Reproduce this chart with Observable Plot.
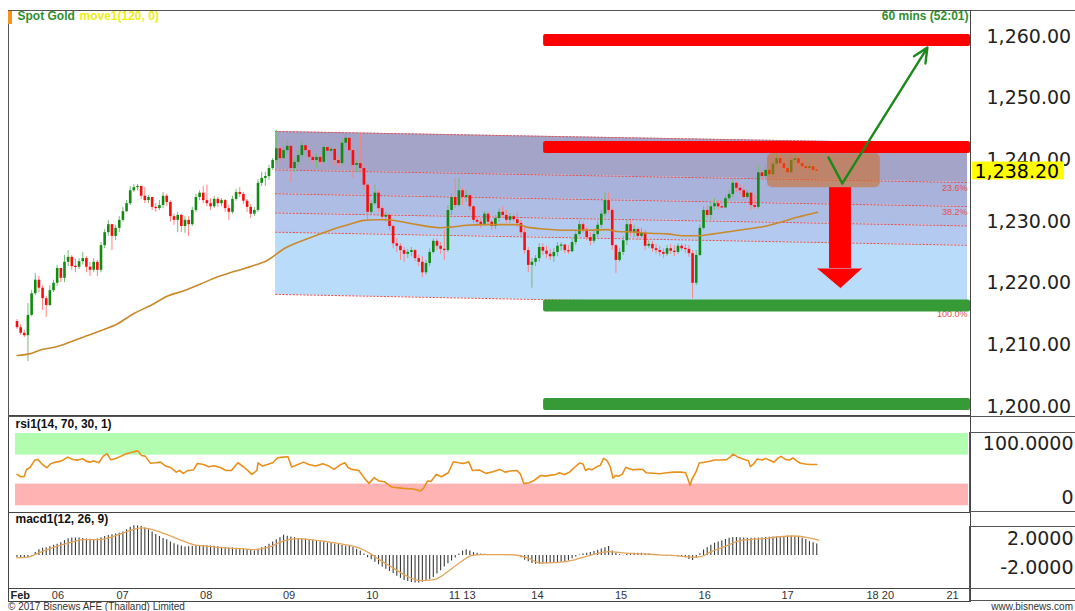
<!DOCTYPE html>
<html><head><meta charset="utf-8">
<script src="https://cdn.jsdelivr.net/npm/d3@7"></script>
<script src="https://cdn.jsdelivr.net/npm/@observablehq/plot@0.6"></script>
<style>
html,body{margin:0;padding:0;background:#fff;}
#root{position:relative;width:1075px;height:611px;overflow:hidden;font-family:"Liberation Sans",Arial,sans-serif;}
#root svg{position:absolute;left:0;display:block;}
.box{position:absolute;border:1px solid #555;box-sizing:border-box;pointer-events:none;}
.foot{position:absolute;top:602px;font-size:10px;line-height:9px;color:#333;white-space:nowrap;}
</style></head><body><div id="root"></div>
<script>
// ---------- DATA ----------
const firstOpen = 1213.8;
const closes = [
1212.8,1211.9,1211.5,1214.8,1218.3,1220.5,1219.2,1217.5,1216.4,1218.8,
1220.0,1222.4,1220.8,1223.4,1224.2,1222.7,1222.6,1223.5,1224.0,1222.6,
1222.1,1223.4,1222.1,1226.1,1228.2,1229.5,1227.6,1228.9,1230.2,1231.6,
1232.9,1235.0,1235.5,1235.7,1234.1,1233.4,1233.9,1232.3,1232.1,1232.6,
1234.1,1233.1,1230.8,1230.2,1231.0,1229.2,1230.2,1229.5,1231.8,1233.9,
1234.6,1233.4,1232.9,1232.4,1233.6,1232.9,1233.4,1232.1,1231.5,1233.6,
1234.7,1234.4,1233.3,1232.3,1231.2,1231.8,1236.2,1237.0,1237.3,1238.6,
1239.9,1241.8,1240.2,1241.5,1242.2,1238.6,1239.6,1240.7,1242.3,1241.5,
1240.4,1239.9,1240.4,1239.6,1242.0,1241.4,1241.7,1239.9,1239.4,1242.7,
1243.5,1241.5,1239.1,1239.4,1238.6,1235.9,1231.5,1232.9,1234.6,1232.1,
1230.7,1231.0,1229.2,1226.4,1226.0,1225.3,1224.7,1225.0,1225.3,1224.0,
1223.4,1221.7,1223.2,1225.0,1226.8,1226.0,1225.5,1225.3,1231.8,1233.9,
1232.6,1235.0,1233.9,1234.2,1232.4,1230.2,1229.9,1229.4,1231.2,1229.9,
1229.2,1230.5,1231.5,1231.0,1230.2,1230.8,1230.3,1229.7,1228.2,1225.3,
1222.9,1223.4,1224.0,1225.8,1225.2,1224.7,1224.3,1225.0,1226.0,1226.2,
1225.3,1225.1,1226.6,1227.9,1229.5,1228.6,1227.4,1226.8,1227.9,1229.4,
1231.2,1233.4,1231.8,1226.1,1223.7,1225.0,1226.9,1229.5,1228.2,1228.7,
1227.6,1228.1,1226.0,1226.3,1225.6,1225.3,1225.0,1224.7,1225.6,1225.2,
1225.0,1226.0,1225.6,1225.5,1224.8,1220.0,1224.5,1228.9,1231.8,1231.0,
1232.4,1232.9,1232.4,1232.2,1233.7,1234.4,1236.2,1235.4,1235.0,1233.9,
1234.6,1232.6,1232.3,1237.9,1237.3,1238.3,1237.6,1239.3,1240.2,1239.4,
1238.6,1237.9,1239.9,1240.2,1239.4,1238.9,1238.6,1238.9,1238.3,1238.2];
const highs = [
1214.1,1213.3,1212.4,1216.7,1218.8,1221.6,1221.1,1219.6,1217.9,1219.6,
1220.5,1222.9,1222.1,1224.5,1225.3,1224.5,1223.9,1224.0,1225.0,1224.3,
1223.4,1224.0,1223.7,1226.6,1228.7,1230.2,1229.5,1229.4,1230.8,1232.3,
1233.4,1235.7,1236.0,1236.0,1235.7,1235.5,1234.2,1233.9,1232.9,1233.4,
1234.7,1234.4,1233.4,1231.2,1231.5,1231.2,1230.8,1230.8,1232.3,1234.4,
1235.0,1235.7,1235.9,1233.7,1234.1,1233.9,1233.7,1233.6,1232.6,1234.1,
1235.2,1235.5,1234.7,1233.6,1232.8,1232.3,1236.8,1238.0,1238.0,1239.1,
1240.2,1244.8,1242.2,1242.2,1243.1,1242.3,1240.2,1241.5,1243.0,1242.5,
1241.8,1240.7,1240.9,1240.7,1242.5,1242.2,1242.0,1241.8,1240.5,1243.3,
1244.3,1243.1,1241.8,1239.9,1244.4,1239.4,1236.2,1233.4,1235.9,1235.0,
1232.4,1231.5,1231.3,1229.4,1227.3,1226.4,1225.8,1225.5,1225.8,1225.5,
1224.5,1224.3,1223.7,1225.6,1227.2,1227.2,1226.6,1228.6,1232.6,1234.5,
1237.0,1237.0,1235.4,1235.0,1234.4,1232.6,1230.8,1230.5,1231.6,1231.5,
1230.3,1231.0,1232.1,1232.4,1231.8,1231.3,1231.2,1231.5,1230.2,1228.9,
1225.8,1224.0,1224.5,1226.4,1226.4,1226.0,1225.5,1225.6,1226.6,1226.6,
1226.3,1226.1,1227.2,1228.6,1230.2,1229.9,1229.0,1228.2,1228.6,1230.0,
1231.8,1234.6,1234.6,1232.1,1226.3,1225.6,1227.6,1230.3,1230.2,1229.4,
1229.0,1228.9,1228.6,1226.9,1226.8,1226.3,1226.0,1225.6,1226.1,1226.3,
1226.1,1226.4,1226.4,1226.3,1226.1,1225.3,1225.3,1229.5,1232.4,1232.6,
1233.1,1233.7,1233.4,1233.4,1234.2,1235.0,1236.7,1236.5,1236.0,1235.7,
1235.0,1234.7,1234.2,1239.1,1238.3,1238.9,1238.9,1239.9,1241.2,1240.7,
1240.2,1239.9,1240.5,1240.7,1240.5,1239.9,1239.4,1239.4,1239.3,1238.8];
const lows = [
1212.5,1211.5,1211.2,1207.3,1214.6,1218.0,1218.5,1215.6,1214.5,1216.2,
1218.5,1219.5,1220.1,1220.1,1222.7,1222.1,1221.7,1222.2,1223.0,1221.7,
1221.1,1221.7,1221.1,1221.7,1225.6,1227.6,1225.3,1226.9,1228.2,1229.9,
1231.5,1232.6,1234.7,1235.0,1233.6,1232.9,1232.9,1231.8,1231.5,1231.8,
1232.1,1232.4,1229.9,1229.4,1228.2,1228.2,1228.1,1227.6,1229.2,1231.5,
1233.4,1232.9,1232.4,1231.8,1232.1,1232.3,1232.4,1231.5,1230.2,1231.2,
1233.3,1233.9,1232.8,1231.5,1230.5,1230.8,1231.5,1235.7,1235.7,1236.7,
1238.3,1239.4,1239.6,1240.2,1240.9,1236.3,1237.9,1239.1,1240.2,1241.0,
1239.9,1239.3,1238.6,1239.1,1239.3,1240.9,1241.0,1239.1,1238.8,1239.1,
1242.0,1240.7,1237.0,1237.9,1237.8,1235.0,1230.2,1231.0,1232.6,1231.5,
1230.2,1229.9,1228.6,1225.6,1225.0,1223.7,1223.4,1224.0,1224.3,1223.5,
1222.7,1220.9,1221.3,1222.7,1224.7,1225.3,1224.7,1223.7,1225.0,1231.0,
1232.1,1232.3,1232.6,1233.1,1231.8,1229.7,1229.2,1228.9,1229.2,1229.4,
1228.6,1228.7,1229.9,1230.5,1229.7,1229.7,1229.9,1229.0,1227.6,1224.7,
1221.7,1219.2,1222.7,1223.4,1224.5,1224.0,1223.7,1223.4,1224.3,1225.2,
1224.8,1224.7,1225.0,1226.1,1227.6,1228.1,1226.9,1226.1,1226.4,1227.4,
1228.9,1230.8,1231.2,1225.3,1221.6,1223.4,1224.5,1226.1,1227.6,1227.4,
1226.9,1227.3,1225.3,1225.6,1225.0,1224.7,1224.3,1224.0,1224.3,1224.7,
1224.3,1224.7,1225.2,1224.8,1224.2,1217.5,1219.6,1224.3,1228.6,1230.5,
1230.2,1231.8,1231.9,1232.1,1232.3,1233.3,1233.9,1234.7,1234.4,1233.3,
1233.6,1231.8,1232.0,1232.0,1236.7,1237.0,1237.1,1237.3,1238.9,1238.6,
1238.1,1237.3,1237.9,1239.4,1238.9,1238.4,1238.1,1238.1,1237.6,1237.9];
// 120-period moving average samples [bar index, price]
const maPts = [[0,1208.3],[3.7,1208.6],[6.4,1209.2],[9.2,1209.5],[11.9,1209.9],[14.6,1210.5],[18.3,1211.3],[22.9,1212.3],[27.4,1213.4],[32,1215.1],[36.6,1216.4],[41.1,1217.9],[45.7,1218.8],[50.3,1219.9],[54.8,1221],[59.4,1221.9],[63.9,1222.7],[68.5,1223.7],[73.1,1225.6],[79.5,1227.2],[85.8,1228.6],[91.3,1229.6],[95,1230.2],[98.6,1230.3],[101.4,1230.3],[104.1,1230.1],[109.6,1229.5],[116,1229],[118.7,1229.1],[123.3,1229.4],[127.8,1229.5],[132.4,1229.5],[137,1229.5],[139.7,1229.1],[144.3,1228.8],[150.7,1228.6],[155.2,1228.6],[161.6,1228.7],[164.3,1228.4],[168.9,1228.3],[173.5,1228.1],[178,1228],[182.6,1227.7],[186.3,1227.7],[190.8,1228],[195.4,1228.4],[200,1228.8],[204.5,1229.2],[209.1,1229.9],[213.6,1230.7],[216.4,1231.1],[219.2,1231.5]];
// RSI samples [bar index, value]
const rsiPts = [[0,43.4],[1,40.2],[2,40.7],[2.6,50.3],[3.5,52.6],[4.9,63.2],[5.7,64.1],[6.8,58.1],[8.2,52.6],[9.2,58.1],[10.6,60.4],[12,61.8],[12.9,64.1],[13.9,67.3],[15.3,64.1],[16.7,63.2],[18.1,65],[18.9,61.8],[20,60.4],[21,61.8],[22.4,59.5],[23.6,68.7],[24.7,71.9],[25.7,63.6],[27.1,65.5],[28.5,68.7],[29.9,71.9],[31.3,73.7],[32.7,75.6],[33.2,75.6],[34.1,69.6],[35.1,68.7],[36.5,59],[37.9,59.5],[39.3,60.4],[40.7,54.9],[42.2,52.6],[43.6,46.6],[44.5,48.9],[45.5,44.8],[46.9,48.9],[48.3,49.4],[49.4,58.6],[51.1,57.2],[52.5,54],[54,55.4],[55.8,52.6],[57.2,48.9],[58.7,48.9],[60.5,59.5],[62,54],[63.4,48],[64.3,43.4],[65.7,48.9],[66,59.5],[67.2,54.9],[68.6,57.2],[70,59.5],[71.4,66.4],[72.8,67.3],[74.2,67.8],[75.2,53.5],[76.6,56.3],[78.5,60.4],[79.9,57.2],[81.8,54.9],[83.7,58.1],[85.1,55.8],[86.8,50.3],[88.4,56.3],[89.8,59.5],[90.7,52.6],[91.7,50.3],[93.6,48.9],[95.4,36.5],[96.4,31],[97.8,38.8],[99.2,34.2],[100.6,33.3],[102.5,26],[103.9,25.1],[105.8,24.1],[108.6,23.2],[110.5,20.5],[111.3,24.1],[112.4,34.2],[113.4,33.8],[114.8,43.4],[116.2,40.2],[118.1,45.7],[119.5,60.9],[120.9,59.5],[122.3,58.6],[123.7,60.9],[124.7,48.9],[126.6,49.4],[128.4,44.8],[130.3,47.1],[132.2,50.3],[133.6,46.6],[135.1,48],[136.9,48.9],[137.9,43.4],[138.8,30.6],[140.2,31.9],[141.6,35.1],[143.4,41.9],[144.8,41],[146.2,42.4],[147.6,43.3],[148.5,45.6],[149.9,43.3],[151.3,46.5],[152.7,53.3],[154.1,59.2],[155,57.9],[155.7,48.8],[156.4,51.1],[157.4,49.7],[158.8,54.2],[159.7,55.6],[160.6,65.6],[161.6,62.4],[162.5,53.3],[163.2,38.3],[163.9,41.9],[164.8,41],[165.8,44.2],[166.7,53.3],[167.6,51.1],[168.6,49.7],[170,50.6],[171.4,50.2],[172.3,45.6],[174.2,45.1],[176.1,44.2],[177.9,45.6],[179.8,46.5],[182.1,46.5],[183.1,45.6],[183.7,37.4],[184.3,28.3],[184.9,37.4],[185.9,46.5],[186.8,59.2],[188.2,60.2],[189.6,61.5],[191,63.3],[192.9,63.3],[194.3,63.8],[195.2,67],[196.1,71.5],[197.5,67],[199.4,63.8],[200.3,62.4],[200.8,54.2],[201.7,57.9],[202.7,64.7],[204.1,63.3],[205,65.6],[206.4,62.4],[207.3,60.2],[208.3,65.6],[209.2,68.3],[210.6,63.8],[211.6,63.3],[212.5,66.1],[213.4,62.4],[214.4,59.2],[215.8,57.9],[217.2,57],[219,57]];
const rsiUpper = 70, rsiLower = 30;
// MACD histogram (one value per bar)
const macd = [
-0.3,-0.35,-0.35,-0.3,-0.1,0.4,0.8,1.0,1.05,1.2,
1.4,1.55,1.75,2.05,2.3,2.4,2.42,2.42,2.35,2.28,
2.22,2.19,2.28,2.45,2.62,2.75,2.85,2.96,3.05,3.25,
3.55,3.9,4.1,4.08,3.98,3.8,3.55,3.25,2.9,2.6,
2.35,2.15,1.85,1.6,1.45,1.3,1.18,1.2,1.28,1.35,
1.37,1.36,1.34,1.32,1.27,1.2,1.12,1.06,1.04,1.04,
1.0,0.96,0.9,0.82,0.7,0.6,0.85,1.05,1.25,1.55,
1.85,2.15,2.45,2.78,2.65,2.55,2.45,2.35,2.3,2.25,
2.15,2.05,1.95,1.88,1.8,1.73,1.65,1.59,1.5,1.42,
1.32,1.22,1.1,0.85,0.6,0.2,-0.3,-0.6,-0.95,-1.27,
-1.6,-1.9,-2.2,-2.5,-2.85,-3.15,-3.45,-3.6,-3.72,-3.78,
-3.78,-3.7,-3.6,-3.35,-3.05,-2.55,-2.1,-1.6,-1.15,-0.75,
-0.35,0.2,0.6,0.8,0.6,0.4,0.3,0.22,0.16,0.12,
0.12,0.12,0.12,0.1,0.05,0.03,0.03,-0.1,-0.3,-0.65,
-0.85,-1.1,-1.2,-1.2,-1.15,-1.15,-1.1,-1.06,-1.0,-0.95,
-0.88,-0.75,-0.45,-0.2,0.05,0.2,0.3,0.42,0.55,0.72,
0.88,1.08,1.22,0.6,0.3,0.1,-0.05,0.2,0.28,0.31,
0.31,0.31,0.25,0.2,0.12,0.06,0.0,-0.05,-0.1,-0.15,
-0.15,-0.15,-0.15,-0.3,-0.55,-0.69,-0.4,0.25,0.75,1.05,
1.4,1.7,1.85,1.98,2.2,2.36,2.48,2.47,2.45,2.4,
2.36,2.36,2.38,2.42,2.45,2.48,2.52,2.56,2.58,2.58,
2.62,2.67,2.64,2.58,2.48,2.36,2.2,1.9,1.75,1.58];
const signalPts = [[0,-0.33],[3,-0.24],[5.9,0.35],[9.6,1.04],[14.3,1.73],[18.1,2.19],[22.8,2.19],[26.6,2.65],[30.4,3.34],[34.1,3.8],[36,3.71],[39.8,3.11],[44.5,2.19],[48.3,1.5],[52.1,1.27],[56.8,1.04],[61.5,0.95],[65.3,0.81],[69,1.14],[72.8,1.96],[76.6,2.33],[80.4,2.19],[84.1,1.96],[89.8,1.5],[93.6,1.04],[96.4,0.35],[99.2,-0.57],[103,-1.71],[106.8,-2.86],[110.5,-3.46],[114.3,-3.32],[118.1,-2.17],[121.8,-0.79],[124.7,0.03],[127.5,0.12],[133.2,0.12],[136.9,0.03],[139.8,-0.33],[143.4,-1.04],[148,-0.96],[152.7,-0.6],[157.4,0.08],[162,0.54],[166.7,0.31],[171.4,0.22],[176.1,0.08],[180.7,-0.05],[184.5,-0.24],[187.3,-0.15],[190.1,0.54],[193.8,1.22],[197.5,1.99],[201.2,2.22],[205,2.36],[208.8,2.58],[212.5,2.68],[216.2,2.49],[219.5,2.13]];
const macdTicks = [2, -2];
// x-axis day labels [label, bar index]
const dayLabels = ["Feb","06","07","08","09","10","11","13","14","15","16","17","18","20","21"];
const dayPos = [-1.8,11.2,28.9,51.8,74.5,97.3,119.8,123.9,142.5,165.4,188.3,211.0,234.3,238.5,256.2];
const priceTicks = [1200,1210,1220,1230,1240,1250,1260];
const currentPrice = 1238.2;
// Fibonacci channel: anchors (bar index) and top/bottom prices at each end
const fibX = [70.8, 260.3];
const fibTop = [1244.6, 1242.6];
const fibBottom = [1218.2, 1216.0];
const fibLevels = [0, 0.236, 0.382, 0.5, 0.618, 1];
const fibLabels = ["0.0%", "23.6%", "38.2%", null, null, "100.0%"];
// support / resistance bars
const srStart = 144.2;
const resistance = [1259.35, 1242.0];
const support = [1216.3, 1200.35];
// drawn annotations (bar index, price)
const zoneBox = {x1: 205.5, x2: 236.4, y1: 1235.5, y2: 1241.0};
const downArrow = {shaft: [222.5, 228.5], top: 1235.5, neck: 1222.4, tip: 1219.3, head: [219.3, 225.5, 231.2]};
const upPath = [[222.2, 1240.4], [226.0, 1236.2], [249.3, 1258.2]];

// ---------- CHART ----------
const W = 1075;
const xDomain = [-2.33, 261.1];
const font = "'Liberation Sans', Arial, sans-serif";
const axisFont = "'DejaVu Sans', sans-serif";
const root = document.getElementById("root");
function place(svg, top) { svg.style.top = top + "px"; root.appendChild(svg); }

const candles = closes.map((c, i) => {
  const o = i === 0 ? firstOpen : closes[i - 1];
  const flat = Math.abs(c - o) < 0.2;
  return {i, o, c,
    b1: flat ? (o + c) / 2 - 0.1 : o, b2: flat ? (o + c) / 2 + 0.1 : c,
    h: Math.max(highs[i], o, c), l: Math.min(lows[i], o, c), up: c >= o};
});
const lvl = (side, f) => fibTop[side] - f * (fibTop[side] - fibBottom[side]);
const bandColors = ["#a4a4c9", "#a9b2da", "#aebde4", "#b3c9ef", "#badcfb"];
const bandMarks = bandColors.map((col, k) => Plot.areaY([0, 1], {
  x: s => fibX[s], y1: s => lvl(s, fibLevels[k + 1]), y2: s => lvl(s, fibLevels[k]), fill: col}));
const lineMarks = fibLevels.map(f => Plot.line([0, 1], {
  x: s => fibX[s], y: s => lvl(s, f), stroke: "#e05555", strokeWidth: 1, strokeDasharray: "1.5,2"}));
const fibText = fibLevels.map((f, k) => ({f, label: fibLabels[k]})).filter(d => d.label);
const srBars = [...resistance.map(p => ({p, fill: "#ff0000"})), ...support.map(p => ({p, fill: "#369a36"}))];
const fmt = d3.format(",.2f");

const main = Plot.plot({
  width: W, height: 416, marginLeft: 8, marginRight: 105, marginTop: 10, marginBottom: 1,
  x: {domain: xDomain, axis: null}, y: {domain: [1198.57, 1264.21], axis: null},
  color: {type: "identity"},
  style: {background: "transparent", fontFamily: font, overflow: "visible"},
  marks: [
    ...bandMarks, ...lineMarks,
    Plot.ruleX(candles, {x: "i", y1: "l", y2: "h", stroke: d => d.up ? "#74bb74" : "#ff8080", strokeWidth: 1}),
    Plot.ruleX(candles, {x: "i", y1: "b1", y2: "b2", stroke: d => d.up ? "#128a12" : "#ff0a0a", strokeWidth: 2.6}),
    Plot.line(maPts, {x: d => d[0], y: d => d[1], stroke: "#c98a2e", strokeWidth: 1.6, curve: "monotone-x"}),
    Plot.text(fibText, {x: () => fibX[1], y: d => lvl(1, d.f), text: "label", textAnchor: "end", dy: 6, fontSize: 9, fill: "#e05050"}),
    Plot.rect(srBars, {x1: () => srStart, x2: () => xDomain[1], y1: d => d.p - 0.97, y2: d => d.p + 0.97, fill: "fill", rx: 2}),
    Plot.rect([zoneBox], {x1: "x1", x2: "x2", y1: "y1", y2: "y2", fill: "#d2691e", fillOpacity: 0.55, rx: 5}),
    Plot.rect([downArrow], {x1: d => d.shaft[0], x2: d => d.shaft[1], y1: "neck", y2: "top", fill: "#ff0000"}),
    Plot.line([[downArrow.head[0], downArrow.neck], [downArrow.head[1], downArrow.tip], [downArrow.head[2], downArrow.neck]],
      {x: d => d[0], y: d => d[1], fill: "#ff0000", stroke: "#ff0000", strokeWidth: 1}),
    Plot.line(upPath.slice(0, 2), {x: d => d[0], y: d => d[1], stroke: "#1a8a1a", strokeWidth: 2.4}),
    Plot.arrow([upPath], {x1: d => d[1][0], y1: d => d[1][1], x2: d => d[2][0], y2: d => d[2][1], stroke: "#1a8a1a", strokeWidth: 2.4, headLength: 10, headAngle: 50}),
    Plot.text(priceTicks, {y: d => d, text: d => fmt(d), frameAnchor: "right", dx: 16, textAnchor: "start", fontSize: 19, fontFamily: axisFont, fill: "#222"}),
    Plot.rect([currentPrice], {x1: () => xDomain[1], x2: () => xDomain[1], y1: d => d - 1.45, y2: d => d + 1.45, insetLeft: 2, insetRight: -94, fill: "#ffff00"}),
    Plot.text([currentPrice], {y: d => d, text: d => fmt(d), frameAnchor: "right", dx: 4, dy: 1, textAnchor: "start", fontSize: 19, fontFamily: axisFont, fill: "#000"}),
    Plot.text(["Spot Gold"], {text: d => d, frameAnchor: "top-left", dx: 9, dy: 1, lineAnchor: "top", textAnchor: "start", fontSize: 12, fontWeight: "bold", fill: "#2f8f2f"}),
    Plot.text(["move1(120, 0)"], {text: d => d, frameAnchor: "top-left", dx: 71, dy: 1, lineAnchor: "top", textAnchor: "start", fontSize: 12, fontWeight: "bold", fill: "#eeee10"}),
    Plot.text(["60 mins (52:01)"], {text: d => d, frameAnchor: "top-right", dx: -2, dy: 1, lineAnchor: "top", textAnchor: "end", fontSize: 12, fontWeight: "bold", fill: "#2f8f2f"}),
    Plot.frame({stroke: "#444"})
  ]
});
place(main, 0);

const rsiData = rsiPts.map(([i, v]) => ({i, v}));
const rsi = Plot.plot({
  width: W, height: 96, marginLeft: 8, marginRight: 105, marginTop: 0, marginBottom: 0,
  x: {domain: xDomain, axis: null}, y: {domain: [-9.3, 123.5], axis: null},
  style: {background: "transparent", fontFamily: font, overflow: "visible"},
  marks: [
    Plot.rect([{lo: rsiUpper, hi: 100, fill: "#b3fdb0"}, {lo: 0, hi: rsiLower, fill: "#ffb3b3"}],
      {x1: () => xDomain[0], x2: () => xDomain[1], insetLeft: 7, insetRight: 2, y1: "lo", y2: "hi", fill: "fill"}),
    Plot.line(rsiData, {x: "i", y: "v", stroke: "#e8901c", strokeWidth: 1.6}),
    Plot.text(["rsi1(14, 70, 30, 1)"], {text: d => d, frameAnchor: "top-left", dx: 7, dy: 3, lineAnchor: "top", textAnchor: "start", fontSize: 12, fontWeight: "bold", fill: "#111"}),
    Plot.text([100], {y: d => d, text: () => "100.0000", frameAnchor: "right", dx: 103, dy: 10, textAnchor: "end", fontSize: 19, fontFamily: axisFont, fill: "#222"}),
    Plot.text([0], {y: d => d, text: () => "0", frameAnchor: "right", dx: 103, dy: -8, textAnchor: "end", fontSize: 19, fontFamily: axisFont, fill: "#222"}),
    Plot.frame({stroke: "#444"})
  ]
});
place(rsi, 416);

const macdData = macd.map((v, i) => ({i, v}));
const sigData = signalPts.map(([i, v]) => ({i, v}));
const mac = Plot.plot({
  width: W, height: 76, marginLeft: 8, marginRight: 105, marginTop: 0, marginBottom: 0,
  x: {domain: xDomain, axis: null}, y: {domain: [-4.55, 5.92], axis: null},
  style: {background: "transparent", fontFamily: font, overflow: "visible"},
  marks: [
    Plot.ruleX(macdData, {x: "i", y1: 0, y2: "v", stroke: "#3a3a3a", strokeWidth: 1.1}),
    Plot.line(sigData, {x: "i", y: "v", stroke: "#e3a55a", strokeWidth: 1.3, curve: "monotone-x"}),
    Plot.text(["macd1(12, 26, 9)"], {text: d => d, frameAnchor: "top-left", dx: 7, dy: 2, lineAnchor: "top", textAnchor: "start", fontSize: 12, fontWeight: "bold", fill: "#111"}),
    Plot.text(macdTicks, {y: d => d, text: d => (d < 0 ? "-" : "") + Math.abs(d).toFixed(4), frameAnchor: "right", dx: 103, dy: -2, textAnchor: "end", fontSize: 19, fontFamily: axisFont, fill: "#222"}),
    Plot.frame({stroke: "#444"})
  ]
});
place(mac, 512);

const days = dayLabels.map((label, k) => ({label, pos: dayPos[k], first: k === 0}));
const xaxis = Plot.plot({
  width: W, height: 13, marginLeft: 8, marginRight: 105, marginTop: 0, marginBottom: 0,
  x: {domain: xDomain, axis: null},
  style: {background: "transparent", fontFamily: font, overflow: "visible"},
  marks: [
    Plot.text(days.filter(d => !d.first), {x: "pos", text: "label", frameAnchor: "middle", fontSize: 11, fill: "#333"}),
    Plot.text(days.filter(d => d.first), {x: "pos", text: "label", frameAnchor: "middle", textAnchor: "start", fontSize: 11, fontWeight: "bold", fill: "#222"}),
    Plot.frame({stroke: "#444"})
  ]
});
place(xaxis, 588);

// decorations (frames / footer)
function div(cls, css, text) { const d = document.createElement("div"); d.className = cls; Object.assign(d.style, css); if (text) d.textContent = text; root.appendChild(d); }
div("box", {left: "8px", top: "10px", width: "1068px", height: "407px"});
div("box", {left: "969px", top: "432px", width: "110px", height: "80px"});
div("box", {left: "969px", top: "526px", width: "110px", height: "63px"});
div("box", {left: "969px", top: "588px", width: "110px", height: "13px"});
div("", {position: "absolute", left: "8px", top: "11px", width: "4px", height: "13px", background: "#f7941d"});
div("foot", {left: "8px"}, "© 2017 Bisnews AFE (Thailand) Limited");
div("foot", {right: "2px"}, "www.bisnews.com");
</script></body></html>
